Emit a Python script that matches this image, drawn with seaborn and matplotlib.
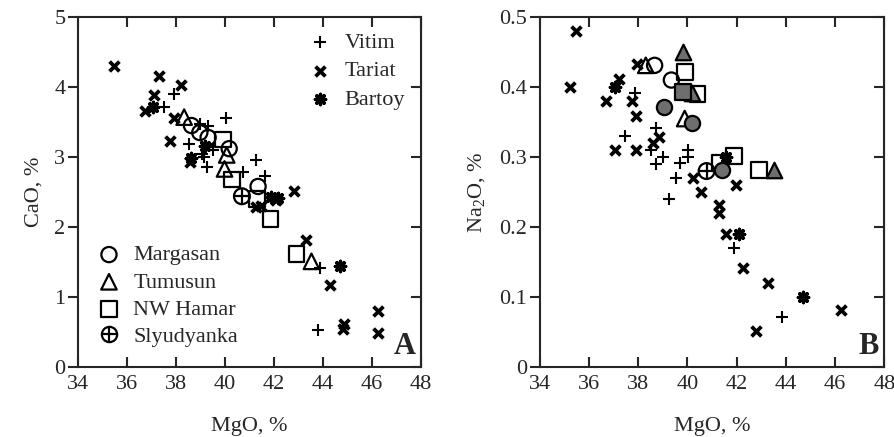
import matplotlib
matplotlib.use('Agg')
import matplotlib.pyplot as plt
import seaborn as sns
from matplotlib.lines import Line2D

# ---- Panel A: CaO vs MgO ----
a_vitim_mgo = [37.51, 37.93, 38.54, 38.98, 39.32, 40.03, 39.52, 39.05, 39.16, 39.28, 40.75, 41.27, 41.63, 43.88, 43.81]
a_vitim_cao = [3.72, 3.90, 3.19, 3.47, 3.44, 3.56, 3.10, 3.05, 3.00, 2.86, 2.79, 2.96, 2.73, 1.42, 0.53]
a_tariat_mgo = [35.47, 37.32, 38.23, 37.10, 36.73, 37.92, 37.78, 38.60, 42.83, 41.29, 41.50, 42.10,
                43.31, 44.31, 44.86, 44.83, 46.27, 46.27]
a_tariat_cao = [4.30, 4.16, 4.03, 3.89, 3.66, 3.56, 3.23, 2.93, 2.51, 2.28, 2.30, 2.38,
                1.82, 1.17, 0.62, 0.54, 0.80, 0.48]
a_bartoy_mgo = [37.07, 39.18, 38.61, 41.90, 42.18, 44.72]
a_bartoy_cao = [3.72, 3.16, 2.98, 2.43, 2.41, 1.44]
a_marg_mgo = [38.64, 38.98, 39.32, 40.18, 41.36]
a_marg_cao = [3.45, 3.35, 3.28, 3.12, 2.58]
a_tumu_mgo = [38.34, 40.08, 39.99, 43.54]
a_tumu_cao = [3.57, 3.03, 2.83, 1.51]
a_hamar_mgo = [39.92, 40.30, 41.30, 41.87, 42.93]
a_hamar_cao = [3.25, 2.68, 2.40, 2.11, 1.62]
a_sly_mgo = [40.70]
a_sly_cao = [2.44]

# ---- Panel B: Na2O vs MgO ----
b_vitim_mgo = [37.86, 37.48, 38.74, 38.54, 38.74, 39.01, 39.53, 39.69, 40.03, 40.03, 39.26, 41.90, 43.85]
b_vitim_na = [0.392, 0.330, 0.341, 0.310, 0.290, 0.300, 0.270, 0.291, 0.310, 0.300, 0.240, 0.170, 0.071]
b_tariat_mgo = [35.46, 35.22, 37.22, 37.96, 36.71, 37.75, 37.90, 37.05, 37.90, 38.60, 38.85, 40.23, 40.57,
                41.97, 41.28, 41.28, 41.56, 42.26, 43.28, 46.26, 42.78]
b_tariat_na = [0.480, 0.400, 0.411, 0.433, 0.380, 0.380, 0.359, 0.310, 0.310, 0.320, 0.329, 0.270, 0.250,
               0.260, 0.231, 0.220, 0.190, 0.141, 0.120, 0.081, 0.051]
b_bartoy_mgo = [37.05, 41.56, 42.10, 44.70]
b_bartoy_na = [0.400, 0.300, 0.190, 0.100]
b_marg_mgo = [38.67, 39.35]
b_marg_na = [0.431, 0.410]
b_marg_fill_mgo = [39.04, 40.17, 41.39]
b_marg_fill_na = [0.371, 0.348, 0.281]
b_tumu_mgo = [38.31, 39.89]
b_tumu_na = [0.431, 0.355]
b_tumu_fill_mgo = [39.83, 40.17, 43.51]
b_tumu_fill_na = [0.450, 0.391, 0.281]
b_hamar_mgo = [39.89, 40.41, 41.90, 41.32, 42.91]
b_hamar_na = [0.422, 0.390, 0.301, 0.292, 0.281]
b_hamar_fill_mgo = [39.83]
b_hamar_fill_na = [0.393]
b_sly_mgo = [40.78]
b_sly_na = [0.280]

x_ticks = [34, 36, 38, 40, 42, 44, 46, 48]

sns.set_style('ticks')
plt.rcParams['font.family'] = ['Liberation Serif', 'DejaVu Serif']
plt.rcParams['mathtext.fontset'] = 'custom'
plt.rcParams['mathtext.rm'] = 'Liberation Serif'
plt.rcParams['font.size'] = 16

fig = plt.figure(figsize=(8.95, 4.37), dpi=100)
axA = fig.add_axes([0.087, 0.160, 0.383, 0.801])
axB = fig.add_axes([0.603, 0.160, 0.385, 0.801])

open_kw = dict(facecolor='none', edgecolor='black', linewidth=1.6)
fill_kw = dict(facecolor='#6e6e6e', edgecolor='black', linewidth=1.6)


def draw_common(ax, vit, tar, bar):
    sns.scatterplot(x=vit[0], y=vit[1], ax=ax, marker='+', s=80, color='black',
                    linewidth=1.5, label='Vitim', zorder=3)
    sns.scatterplot(x=tar[0], y=tar[1], ax=ax, marker='x', s=50, color='black',
                    linewidth=2.7, label='Tariat', zorder=3)
    sns.scatterplot(x=bar[0], y=bar[1], ax=ax, marker=(8, 2, 0), s=55, color='black',
                    linewidth=2.4, label='Bartoy', zorder=3)


def draw_groups(ax, marg, tumu, hamar, sly):
    sns.scatterplot(x=marg[0], y=marg[1], ax=ax, marker='o', s=120, label='Margasan', zorder=4, **open_kw)
    sns.scatterplot(x=tumu[0], y=tumu[1], ax=ax, marker='^', s=125, label='Tumusun', zorder=4, **open_kw)
    sns.scatterplot(x=hamar[0], y=hamar[1], ax=ax, marker='s', s=130, label='NW Hamar', zorder=4, **open_kw)
    sns.scatterplot(x=sly[0], y=sly[1], ax=ax, marker='o', s=130, label='Slyudyanka', zorder=4, **open_kw)
    sns.scatterplot(x=sly[0], y=sly[1], ax=ax, marker='+', s=130, color='black', linewidth=1.6, zorder=5)


draw_common(axA, (a_vitim_mgo, a_vitim_cao), (a_tariat_mgo, a_tariat_cao), (a_bartoy_mgo, a_bartoy_cao))
draw_groups(axA, (a_marg_mgo, a_marg_cao), (a_tumu_mgo, a_tumu_cao),
            (a_hamar_mgo, a_hamar_cao), (a_sly_mgo, a_sly_cao))

draw_common(axB, (b_vitim_mgo, b_vitim_na), (b_tariat_mgo, b_tariat_na), (b_bartoy_mgo, b_bartoy_na))
draw_groups(axB, (b_marg_mgo, b_marg_na), (b_tumu_mgo, b_tumu_na),
            (b_hamar_mgo, b_hamar_na), (b_sly_mgo, b_sly_na))
sns.scatterplot(x=b_marg_fill_mgo, y=b_marg_fill_na, ax=axB, marker='o', s=120, zorder=4, **fill_kw)
sns.scatterplot(x=b_tumu_fill_mgo, y=b_tumu_fill_na, ax=axB, marker='^', s=125, zorder=4, **fill_kw)
sns.scatterplot(x=b_hamar_fill_mgo, y=b_hamar_fill_na, ax=axB, marker='s', s=130, zorder=4, **fill_kw)

# legends for panel A, none for panel B
handles, labels = axA.get_legend_handles_labels()
axA.get_legend().remove()
axB.get_legend().remove()
top = axA.legend(handles[:3], labels[:3], loc='upper right', frameon=False, fontsize=16,
                 handletextpad=0.6, labelspacing=0.35, borderaxespad=0.3, handlelength=1.0)
axA.add_artist(top)
sly_handle = (Line2D([], [], marker='o', markersize=11, markerfacecolor='none', markeredgecolor='black',
                     markeredgewidth=1.6, linestyle='none'),
              Line2D([], [], marker='+', markersize=11, color='black', markeredgewidth=1.6, linestyle='none'))
axA.legend(handles[3:6] + [sly_handle], labels[3:7], loc='lower left', frameon=False, fontsize=16,
           handletextpad=0.6, labelspacing=0.3, borderaxespad=0.5, handlelength=1.0)

for ax, ylim, yticks, ylab, tag in [
        (axA, (0, 5), [0, 1, 2, 3, 4, 5], 'CaO, %', 'A'),
        (axB, (0, 0.5), [0, 0.1, 0.2, 0.3, 0.4, 0.5], 'Na$_\\mathregular{2}$O, %', 'B')]:
    ax.set_xlim(34, 48)
    ax.set_ylim(*ylim)
    ax.set_xticks(x_ticks)
    ax.set_yticks(yticks)
    ax.set_yticklabels(['0'] + [('%g' % t) for t in yticks[1:]])
    ax.set_xlabel('MgO, %', fontsize=16, labelpad=16)
    ax.set_ylabel(ylab, fontsize=16, labelpad=8)
    for sp in ax.spines.values():
        sp.set_visible(True)
        sp.set_linewidth(1.5)
    ax.tick_params(axis='x', direction='in', top=True, bottom=True, length=7, width=1.5,
                   labelsize=16, pad=6)
    ax.tick_params(axis='y', direction='out', left=True, right=False, length=7, width=1.5,
                   labelsize=16, pad=2)
    sec = ax.secondary_yaxis('right')
    sec.set_yticks(yticks)
    sec.tick_params(direction='in', length=7, width=1.5, labelright=False)
    ax.text(0.955, 0.06, tag, transform=ax.transAxes, ha='center', va='center',
            fontsize=22, fontweight='bold')

fig.savefig('out.png', dpi=100)
